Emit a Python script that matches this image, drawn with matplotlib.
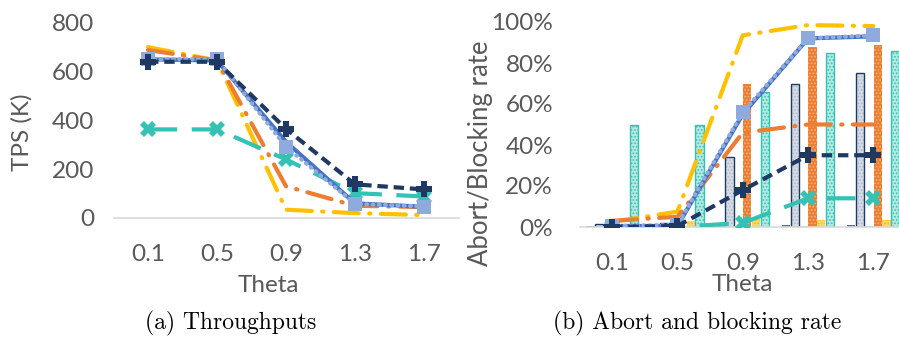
import numpy as np
import matplotlib
matplotlib.use("Agg")
import matplotlib.pyplot as plt
from matplotlib.ticker import FuncFormatter

plt.rcParams['font.family'] = ['Lato', 'DejaVu Sans']
plt.rcParams['hatch.linewidth'] = 0.8

W, H = 899, 341

theta = ['0.1', '0.5', '0.9', '1.3', '1.7']

# throughput (K txn/s)
tps_navy = [640, 640, 365, 138, 117]
tps_blue = [650, 645, 312, 60, 46]
tps_lightblue = [650, 650, 292, 58, 47]
tps_orange = [688, 645, 130, 50, 45]
tps_yellow = [700, 645, 34, 20, 12]
tps_teal = [363, 363, 240, 102, 88]

# abort rate (%)
abort_navy = [0, 0.5, 18, 35, 35]
abort_blue = [0.5, 0.5, 55, 92, 93]
abort_lightblue = [0.5, 1, 56, 92, 93.5]
abort_orange = [3, 5, 46, 50, 50]
abort_yellow = [2.5, 7.5, 93.5, 98.5, 98]
abort_teal = [0, 0, 2, 14, 14]

# blocking rate (%)
block_blue = [0.5, 0.5, 0.5, 1, 1]
block_grey = [1.5, 2, 34, 70, 75]
block_lightblue = [0.3, 0.3, 0.5, 0.5, 0.5]
block_orange = [0, 0.5, 70, 88, 89]
block_yellow = [0.5, 3, 4, 3.5, 3.5]
block_teal = [50, 50, 66, 85, 86]

NAVY = '#1F3864'
BLUE = '#4472C4'
LBLUE = '#8FAADC'
ORANGE = '#ED7D31'
YELLOW = '#FFC000'
TEAL = '#33C2B4'
GREY_TXT = '#595959'
FS = 17.5


def px_axes(fig, x0, x1, ytop, ybot):
    return fig.add_axes([x0 / W, 1 - ybot / H, (x1 - x0) / W, (ybot - ytop) / H])


def style_axes(ax):
    for s in ['top', 'right', 'left']:
        ax.spines[s].set_visible(False)
    ax.spines['bottom'].set_color('#D9D9D9')
    ax.spines['bottom'].set_linewidth(1.2)
    ax.tick_params(length=0, labelsize=FS, colors=GREY_TXT)
    ax.set_xlim(-0.5, 4.5)


def draw_lines(ax, navy, blue, lblue, orange, yellow, teal):
    x = np.arange(len(theta))
    lw = 3
    ax.plot(x, yellow, color=YELLOW, lw=lw, dashes=(6, 2.5, 0.3, 2.5), dash_capstyle='round', zorder=3)
    ax.plot(x, orange, color=ORANGE, lw=lw, dashes=(6, 2.5, 0.3, 2.5), dash_capstyle='round', zorder=3)
    ax.plot(x, teal, color=TEAL, lw=lw, dashes=(7, 3.5), marker='X', ms=11, mew=0, zorder=4)
    ax.plot(x, blue, color=BLUE, lw=lw, zorder=4)
    ax.plot(x, lblue, color=LBLUE, lw=lw, dashes=(0.2, 1.3), dash_capstyle='round',
            marker='s', ms=10, mew=0, zorder=5)
    ax.plot(x, navy, color=NAVY, lw=lw, dashes=(2.5, 1.4), marker='P', ms=11, mew=0, zorder=5)


fig = plt.figure(figsize=(W / 100, H / 100), dpi=100)

# (a) throughput
ax1 = px_axes(fig, 113.5, 458.5, 22.7, 218)
style_axes(ax1)
ax1.set_ylim(0, 800)
ax1.set_yticks([0, 200, 400, 600, 800])
ax1.set_xticks(range(len(theta)))
ax1.set_xticklabels(theta)
ax1.tick_params(axis='x', pad=19)
ax1.tick_params(axis='y', pad=14)
draw_lines(ax1, tps_navy, tps_blue, tps_lightblue, tps_orange, tps_yellow, tps_teal)
ax1.set_ylabel('TPS (K)', fontsize=FS, color=GREY_TXT)
ax1.yaxis.set_label_coords(-0.236, 0.44)
ax1.set_xlabel('Theta', fontsize=FS, color=GREY_TXT)
ax1.xaxis.set_label_coords(0.45, -0.29)

# (b) abort / blocking rate
ax2 = px_axes(fig, 579.5, 906, 22, 227)
style_axes(ax2)
ax2.set_ylim(0, 100)
ax2.set_yticks([0, 20, 40, 60, 80, 100])
ax2.yaxis.set_major_formatter(FuncFormatter(lambda v, p: f'{v:.0f}%'))
ax2.set_xticks(range(len(theta)))
ax2.set_xticklabels(theta)
ax2.tick_params(axis='x', pad=19)
ax2.tick_params(axis='y', pad=19)

x = np.arange(len(theta))
bw = 0.125
step = 0.135
bars = [
    (block_blue, BLUE, BLUE, None),
    (block_grey, '#D6DCE5', '#ADB9CA', NAVY),
    (block_lightblue, '#B4C7E7', '#B4C7E7', None),
    (block_orange, ORANGE, '#F4B183', None),
    (block_yellow, '#FFD966', '#FFC000', None),
    (block_teal, '#B5EAE3', TEAL, TEAL),
]
for i, (vals, face, hatch_col, edge) in enumerate(bars):
    xs = x + (i - 2.5) * step
    ax2.bar(xs, vals, bw, color=face, zorder=1)
    ax2.bar(xs, vals, bw, facecolor='none', edgecolor=hatch_col, hatch='.....', lw=0, zorder=1)
    if edge is not None:
        ax2.bar(xs, vals, bw, facecolor='none', edgecolor=edge, lw=1.0, zorder=2)

draw_lines(ax2, abort_navy, abort_blue, abort_lightblue, abort_orange, abort_yellow, abort_teal)
ax2.set_ylabel('Abort/Blocking rate', fontsize=18.5, color=GREY_TXT)
ax2.yaxis.set_label_coords(-0.265, 0.36)
ax2.set_xlabel('Theta', fontsize=FS, color=GREY_TXT, labelpad=0)
ax2.xaxis.set_label_coords(0.5, -0.23)

fig.text(231 / W, 1 - 323 / H, '(a) Throughputs', family='cmr10', fontsize=17,
         ha='center', va='center')
fig.text(697 / W, 1 - 323 / H, '(b) Abort and blocking rate', family='cmr10', fontsize=17,
         ha='center', va='center')

fig.savefig('out.png', dpi=100)
